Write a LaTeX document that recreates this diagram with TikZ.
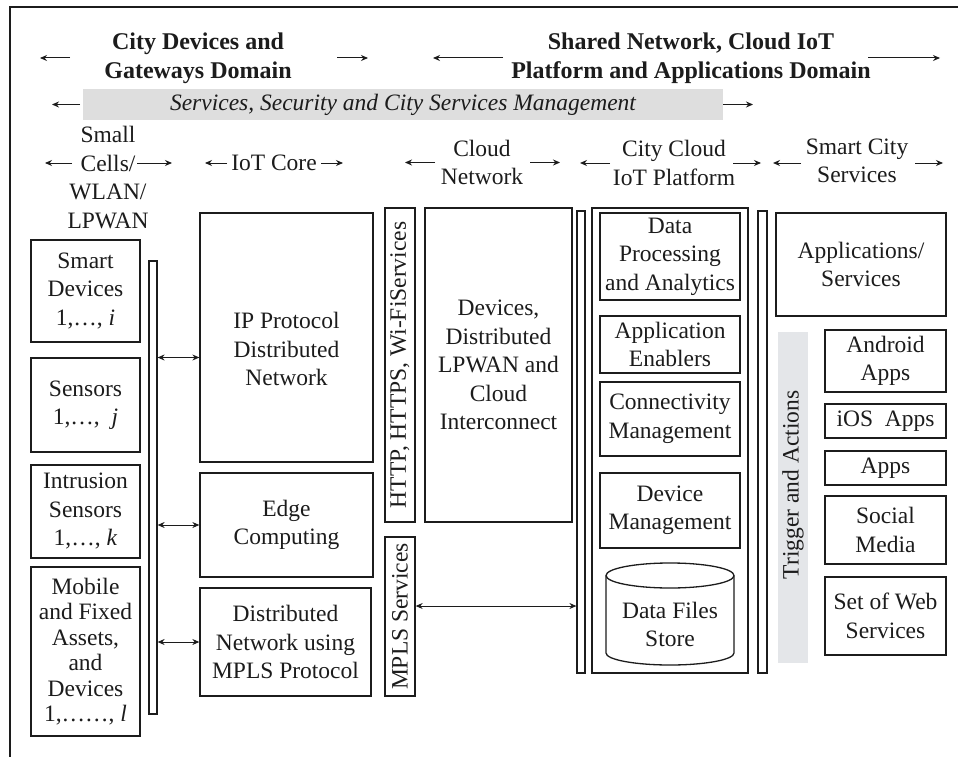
\documentclass[tikz,border=0pt]{standalone}
\usepackage{fontspec}
\setmainfont{Liberation Serif}
\usetikzlibrary{arrows.meta,calc}
\definecolor{ink}{HTML}{1C1C1C}
\definecolor{bandgray}{HTML}{DEDEDE}
\definecolor{triggray}{HTML}{E4E6E9}
\begin{document}
\begin{tikzpicture}[x=1pt,y=-1pt,
  every node/.style={font=\fontsize{23.5}{28.5}\selectfont, text=ink},
  hdr/.style={align=center, inner sep=0pt, font=\fontsize{24}{29}\selectfont\bfseries},
  lbl/.style={align=center, inner sep=0pt},
  box/.style={draw=ink, line width=1.3pt, inner sep=0pt, align=center},
  bar/.style={draw=ink, line width=1.2pt, inner sep=0pt},
  harr/.style={draw=ink, line width=1pt, -{Stealth[length=7pt,width=6pt]}},
  darr/.style={draw=ink, line width=1pt, {Stealth[length=7pt,width=6pt]}-{Stealth[length=7pt,width=6pt]}},
]
\useasboundingbox (0,0) rectangle (958,757);
\fill[white] (0,0) rectangle (958,757);
% frame
\draw[ink, line width=1.5pt] (10,757) -- (10,7) -- (958,7);

% ---------- headers ----------
\node[hdr] (dom1) at (198,58) {City Devices and\\Gateways Domain};
\draw[harr] ([xshift=-128pt]dom1.center) -- ([xshift=-158pt]dom1.center);
\draw[harr] ([xshift=139pt]dom1.center) -- ([xshift=170pt]dom1.center);

\node[hdr] (dom2) at (691,58) {Shared Network, Cloud IoT\\Platform and Applications Domain};
\draw[harr] ([xshift=-188pt]dom2.center) -- ([xshift=-258pt]dom2.center);
\draw[harr] ([xshift=177pt]dom2.center) -- ([xshift=249pt]dom2.center);

\node[fill=bandgray, inner sep=0pt, minimum width=640pt, minimum height=31pt,
      font=\fontsize{23.5}{28.5}\selectfont\itshape] (svc) at (403,104.5)
      {Services, Security and City Services Management};
\draw[harr] ([xshift=-323pt]svc.center) -- ([xshift=-351pt]svc.center);
\draw[harr] ([xshift=320pt]svc.center) -- ([xshift=350pt]svc.center);

\node[lbl] (sc) at (108,177.5) {Small\\Cells/\\WLAN/\\LPWAN};
\draw[harr] ([xshift=-36pt,yshift=14.5pt]sc.center) -- ([xshift=-63pt,yshift=14.5pt]sc.center);
\draw[harr] ([xshift=29pt,yshift=14.5pt]sc.center) -- ([xshift=64pt,yshift=14.5pt]sc.center);

\node[lbl] (ic) at (274,163) {IoT Core};
\draw[harr] ([xshift=-47pt]ic.center) -- ([xshift=-69pt]ic.center);
\draw[harr] ([xshift=47pt]ic.center) -- ([xshift=69pt]ic.center);

\node[lbl] (cn) at (482,162.5) {Cloud\\Network};
\draw[harr] ([xshift=-47pt]cn.center) -- ([xshift=-77pt]cn.center);
\draw[harr] ([xshift=48pt]cn.center) -- ([xshift=78pt]cn.center);

\node[lbl] (cc) at (674,163) {City Cloud\\IoT Platform};
\draw[harr] ([xshift=-64pt]cc.center) -- ([xshift=-94pt]cc.center);
\draw[harr] ([xshift=59pt]cc.center) -- ([xshift=87pt]cc.center);

\node[lbl] (scs) at (857,161) {Smart City\\Services};
\draw[harr] ([xshift=-56pt,yshift=-2pt]scs.center) -- ([xshift=-84pt,yshift=-2pt]scs.center);
\draw[harr] ([xshift=58pt,yshift=-2pt]scs.center) -- ([xshift=86pt,yshift=-2pt]scs.center);

% ---------- left devices ----------
\node[box, minimum width=109pt, minimum height=102pt] (sd) at (85.5,291) {Smart\\Devices\\1,…, \textit{i}};
\node[box, minimum width=109pt, minimum height=94pt] (sen) at (85.5,405) {Sensors\\1,…,\ \ \textit{j}};
\node[box, minimum width=109pt, minimum height=93pt] (intr) at (85.5,511.5) {Intrusion\\Sensors\\1,…, \textit{k}};
\node[box, minimum width=109pt, minimum height=169pt, font=\fontsize{23.5}{25.5}\selectfont] (mob) at (85.5,651.5)
  {Mobile\\and Fixed\\Assets,\\and\\Devices\\1,……, \textit{l}};

\node[bar, minimum width=8pt, minimum height=453pt] (bus1) at (153,487.5) {};

% ---------- IoT core ----------
\node[box, minimum width=173pt, minimum height=249pt] (ip) at (286.5,337.5) {};
\node[lbl] at (286.5,349) {IP Protocol\\Distributed\\Network};
\node[box, minimum width=173pt, minimum height=104pt] (edge) at (286.5,525) {Edge\\Computing};
\node[box, minimum width=171pt, minimum height=108pt] (dmpls) at (285.5,642) {Distributed\\Network using\\MPLS Protocol};

\coordinate (ipin) at ($(ip.west)+(0,20)$);
\draw[darr] (bus1.east |- ipin) -- (ipin);
\draw[darr] (bus1.east |- edge.west) -- (edge.west);
\draw[darr] (bus1.east |- dmpls.west) -- (dmpls.west);

% ---------- cloud network ----------
\node[box, rotate=90, minimum width=314pt, minimum height=30pt] (http) at (400,365) {HTTP, HTTPS, Wi-FiServices};
\node[box, rotate=90, minimum width=159pt, minimum height=30pt] (mplss) at (400,616.5) {MPLS Services};
\node[box, minimum width=147pt, minimum height=314pt] (dev) at (498.5,365) {Devices,\\Distributed\\LPWAN and\\Cloud\\Interconnect};

\node[bar, minimum width=8pt, minimum height=462pt] (bus2) at (581,442) {};
\coordinate (msout) at ($(mplss.south)+(0,-10.5)$);
\draw[darr] (msout) -- (bus2.west |- msout);

% ---------- platform ----------
\node[box, minimum width=156pt, minimum height=465pt] (plat) at (670,440.5) {};
\node[box, minimum width=140pt, minimum height=87pt] (dp) at (670,256.5) {Data\\Processing\\and Analytics};
\node[box, minimum width=140pt, minimum height=57pt] (ae) at (670,344.5) {Application\\Enablers};
\node[box, minimum width=140pt, minimum height=74pt] (cm) at (670,419) {Connectivity\\Management};
\node[box, minimum width=140pt, minimum height=75pt] (dm) at (670,510.5) {Device\\Management};
% cylinder
\draw[ink, line width=1.3pt, fill=white] (606,575.5) -- (606,653) arc[start angle=180, end angle=360, x radius=64pt, y radius=12pt] -- (734,575.5);
\draw[ink, line width=1.3pt] (670,575.5) ellipse[x radius=64pt, y radius=12.5pt];
\node[lbl] (dfs) at (670,624.5) {Data Files\\Store};

\node[bar, minimum width=9pt, minimum height=462pt] (bus3) at (762.5,442) {};

% ---------- smart city services ----------
\node[box, minimum width=170pt, minimum height=103pt] (as) at (861,264.5) {Applications/\\Services};
\node[fill=triggray, inner sep=0pt, minimum width=30pt, minimum height=331pt] (trig) at (793,497.5) {};
\node[lbl, rotate=90] at (793,485) {Trigger and Actions};
\node[box, minimum width=121pt, minimum height=62pt] (and) at (885.5,361) {Android\\Apps};
\node[box, minimum width=121pt, minimum height=34pt] (ios) at (885.5,421) {iOS\ \ Apps};
\node[box, minimum width=121pt, minimum height=34pt] (apps) at (885.5,468) {Apps};
\node[box, minimum width=121pt, minimum height=68pt] (soc) at (885.5,530) {Social\\Media};
\node[box, minimum width=121pt, minimum height=78pt] (web) at (885.5,616) {Set of Web\\Services};
\end{tikzpicture}
\end{document}
